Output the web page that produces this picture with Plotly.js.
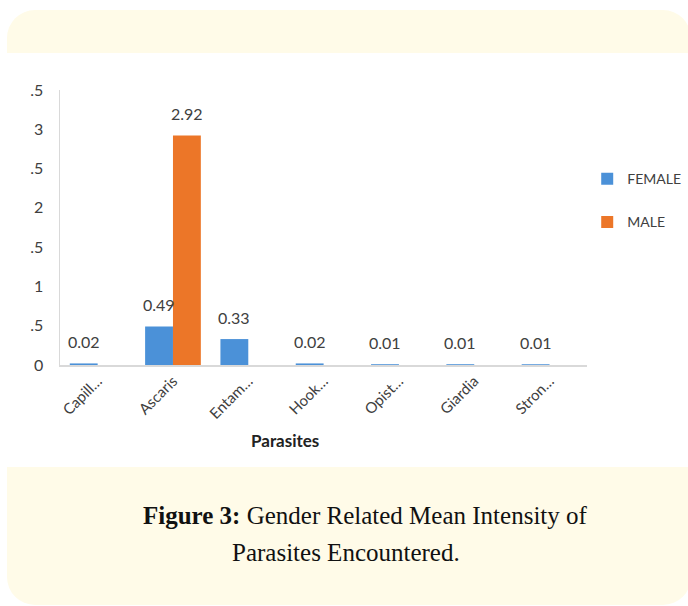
<!DOCTYPE html>
<html>
<head>
<meta charset="utf-8">
<script src="https://cdn.plot.ly/plotly-3.0.1.min.js"></script>
<style>
  html, body { margin:0; padding:0; background:#ffffff; width:688px; height:606px; overflow:hidden; }
  #box { position:absolute; left:7px; top:10px; width:684px; height:595px; background:#fffbe8; border-radius:28px; overflow:hidden; }
  #white { position:absolute; left:0; top:43px; width:684px; height:414px; background:#ffffff; }
  #chart { position:absolute; left:0; top:0; width:681px; height:414px; }
  .cap { position:absolute; font-family:"Liberation Serif", serif; font-size:25px; line-height:25px; color:#111; white-space:nowrap; }
  #cap1 { left:136px; top:493px; }
  #cap2 { left:225px; top:530px; }
</style>
</head>
<body>
<div id="box">
  <div id="white"><div id="chart"></div></div>
  <div id="cap1" class="cap"><b>Figure 3:</b> Gender Related Mean Intensity of</div>
  <div id="cap2" class="cap">Parasites Encountered.</div>
</div>
<script>
const categories = ["Capill\u2026", "Ascaris", "Entam\u2026", "Hook\u2026", "Opist\u2026", "Giardia", "Stron\u2026"];
const female = [0.02, 0.49, 0.33, 0.02, 0.01, 0.01, 0.01];
const male = [null, 2.92, null, null, null, null, null];
const yTickVals = [0, 0.5, 1, 1.5, 2, 2.5, 3, 3.5];
const yTickText = ["0", ".5", "1", ".5", "2", ".5", "3", ".5"];

const FONT = "Lato, 'Open Sans', sans-serif";
const BARGAP = 0.26;
const half = (1 - BARGAP) / 4;

const traces = [
  {type: "bar", name: "FEMALE", x: categories, y: female, marker: {color: "#4b91d8"}, legendgroup: "f"},
  {type: "bar", name: "MALE", x: categories, y: male, marker: {color: "#ec7628"}, legendgroup: "m"}
];

const annotations = [];
[[female, -half], [male, half]].forEach(([vals, off]) => {
  vals.forEach((v, i) => {
    if (v === null) return;
    annotations.push({x: i + off, y: v, xref: "x", yref: "y", text: v.toFixed(2),
      showarrow: false, yshift: 22, yanchor: "middle", xanchor: "center",
      font: {family: FONT, size: 16, color: "#404040"}});
  });
});
annotations.push({text: "<b>Parasites</b>", xref: "paper", yref: "paper", x: 0.427, y: 0, yshift: -75,
  xanchor: "center", yanchor: "middle", showarrow: false,
  font: {family: FONT, size: 17, color: "#222"}});

const layout = {
  width: 681, height: 414,
  margin: {l: 53, r: 98, t: 37, b: 102},
  paper_bgcolor: "rgba(0,0,0,0)", plot_bgcolor: "rgba(0,0,0,0)",
  barmode: "group", bargap: BARGAP, bargroupgap: 0,
  showlegend: true,
  legend: {xref: "container", yref: "container", x: 0.852, xanchor: "left", y: 0.734, yanchor: "top",
           traceorder: "grouped", tracegroupgap: 22, itemwidth: 30,
           font: {family: FONT, size: 14, color: "#404040"}, bgcolor: "rgba(0,0,0,0)"},
  xaxis: {type: "category", tickangle: -45, showline: true, linecolor: "#d9d9d9", linewidth: 1.5,
          ticks: "", showgrid: false, zeroline: false, range: [-0.5, 6.5],
          tickfont: {family: FONT, size: 15, color: "#404040"}},
  yaxis: {range: [0, 3.5], tickvals: yTickVals, ticktext: yTickText, showline: true,
          linecolor: "#d9d9d9", linewidth: 1.5, ticks: "", showgrid: false, zeroline: false,
          ticklabelstandoff: 12,
          tickfont: {family: FONT, size: 16, color: "#404040"}},
  annotations: annotations
};

Plotly.newPlot("chart", traces, layout, {displayModeBar: false, staticPlot: true});
</script>
</body>
</html>
